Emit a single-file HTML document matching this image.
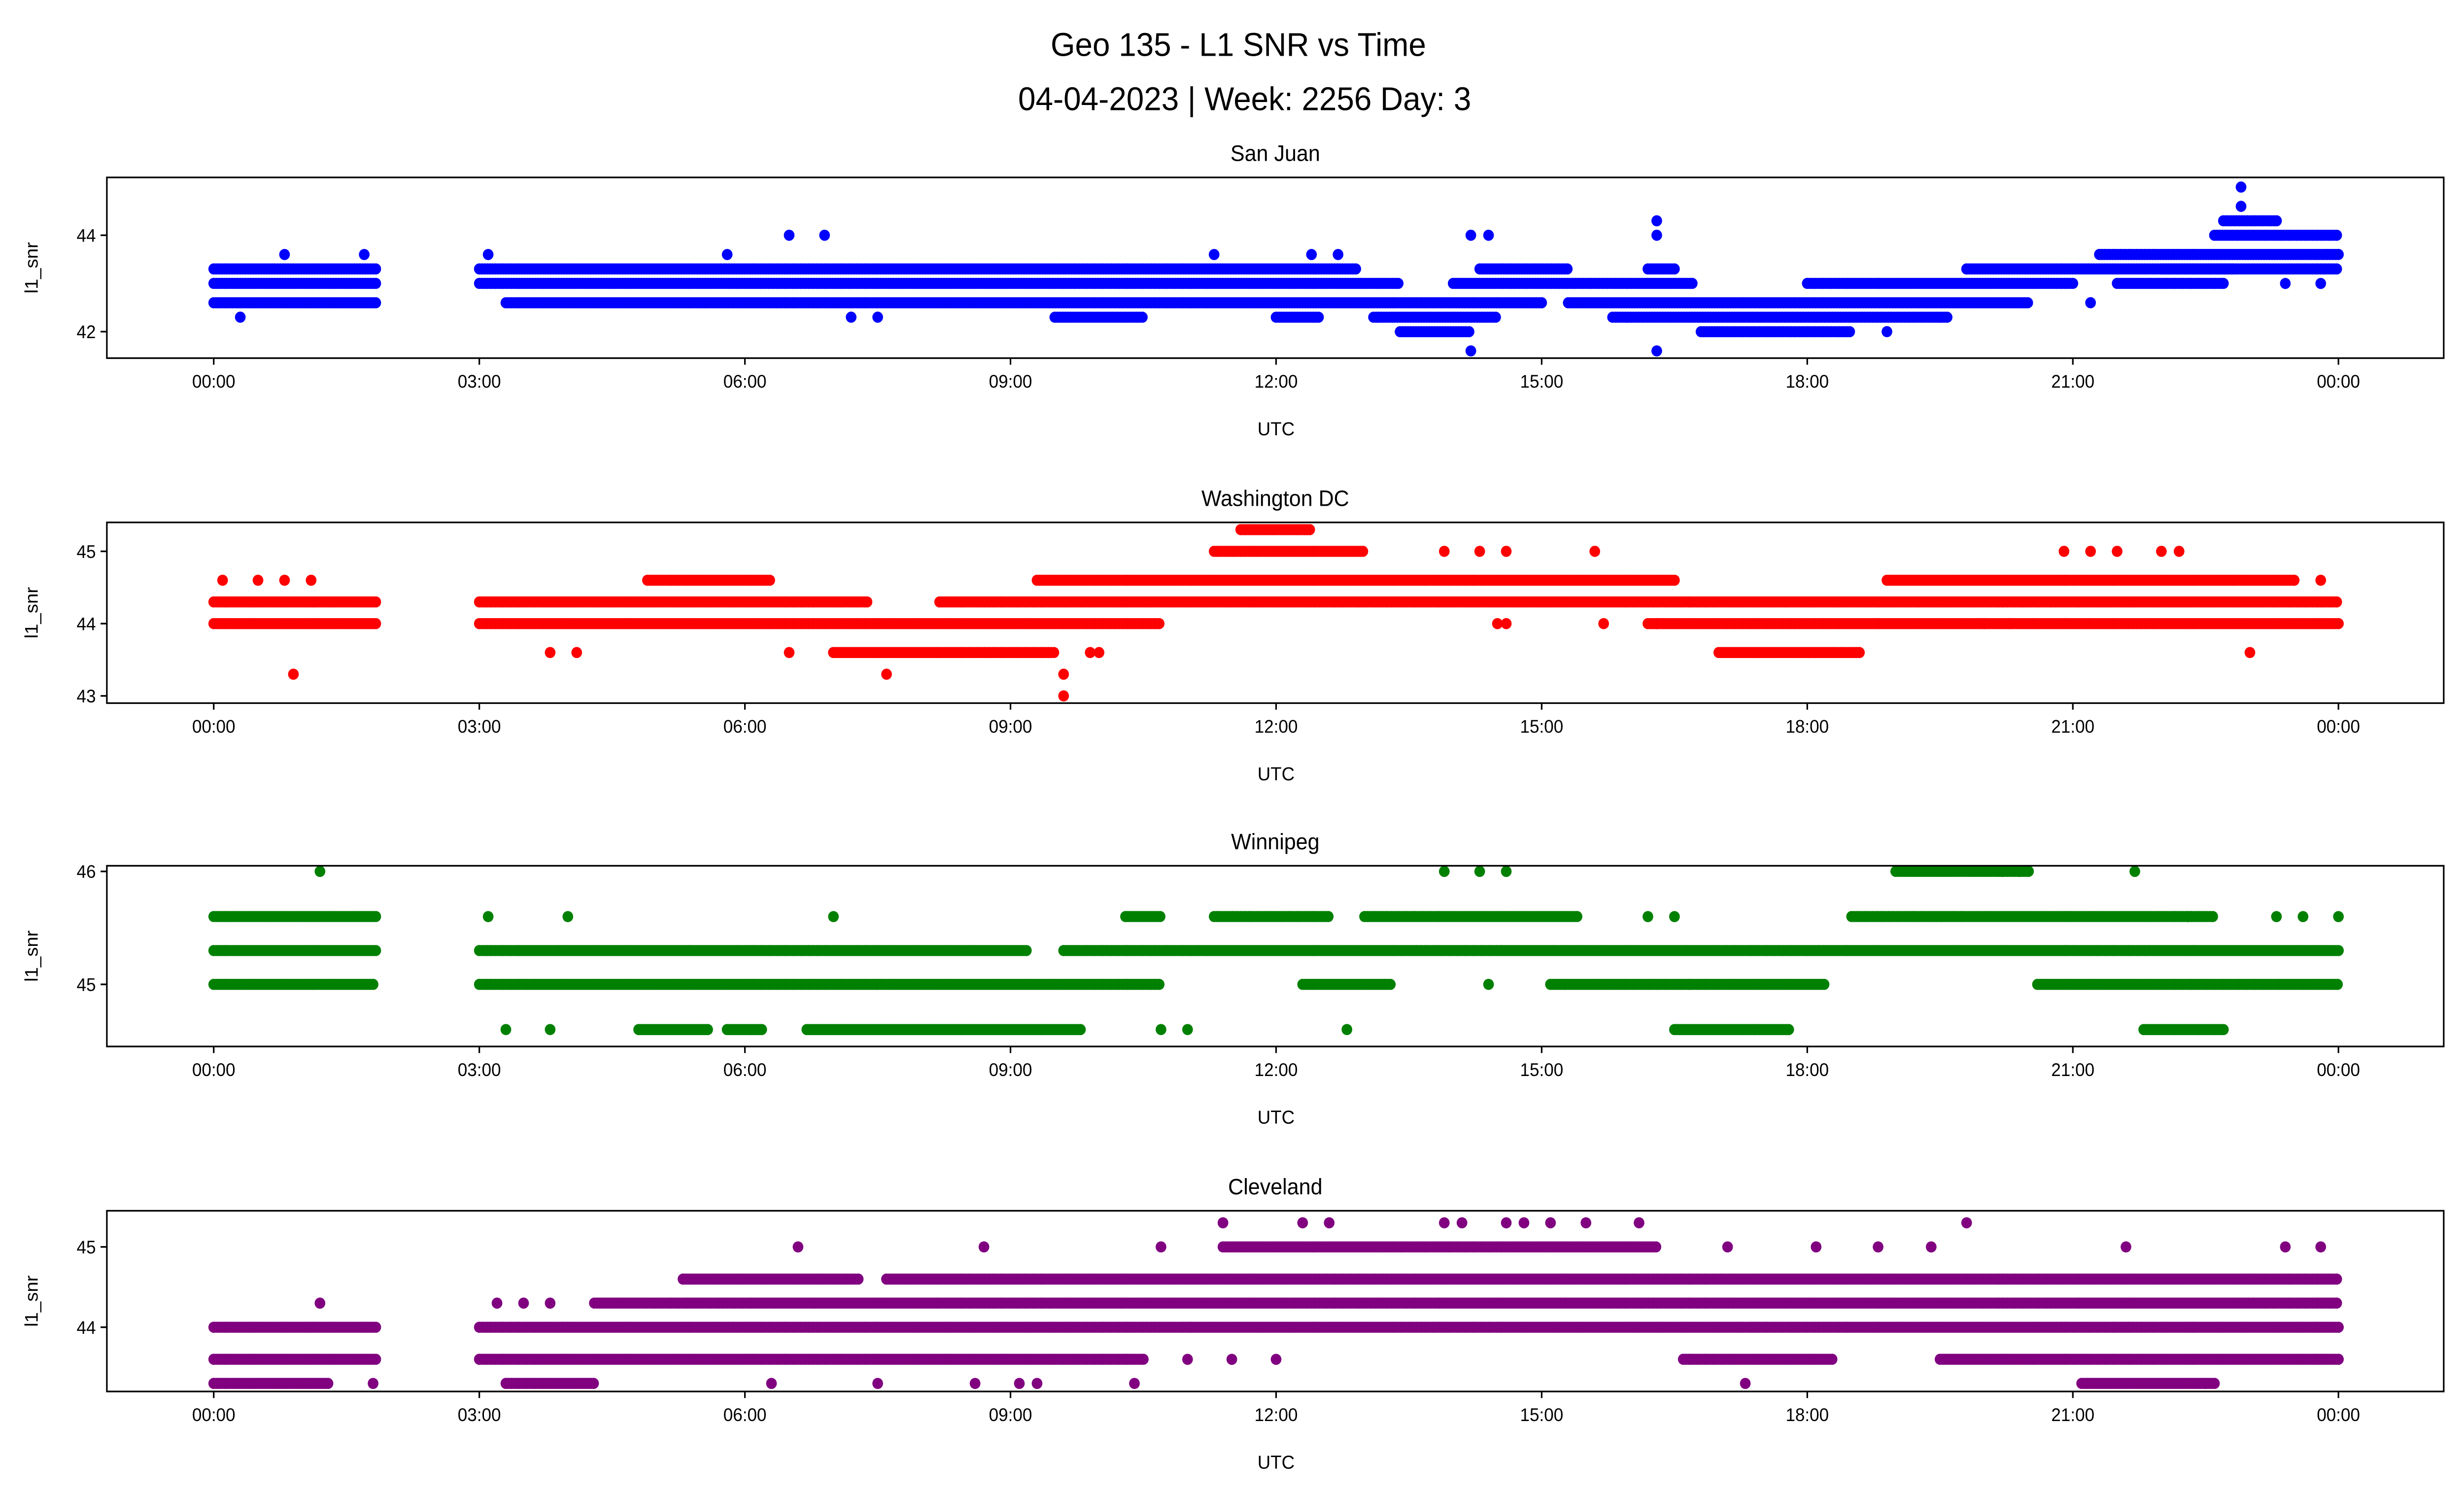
<!DOCTYPE html>
<html><head><meta charset="utf-8"><style>
html,body{margin:0;padding:0;background:#fff;}
svg{display:block;font-family:"Liberation Sans","DejaVu Sans",sans-serif;}
</style></head><body>
<svg xmlns="http://www.w3.org/2000/svg" width="5226" height="3033">
<rect width="5226" height="3033" fill="#fff"/>
<g id="fig" transform="scale(3.18898,3.33291)">
<text x="788" y="34" font-size="20" text-anchor="middle">Geo 135 - L1 SNR vs Time</text>
<text x="792" y="67" font-size="20" text-anchor="middle">04-04-2023 | Week: 2256 Day: 3</text>
</g>
</svg>
<script>
// ---- data ----
const panelNames = ["San Juan","Washington DC","Winnipeg","Cleveland"];
const panelColors = ["#0000ff","#ff0000","#008000","#800080"];
const xTickLabels = ["00:00","03:00","06:00","09:00","12:00","15:00","18:00","21:00","00:00"];
const xTickHours = [0,3,6,9,12,15,18,21,24];
const yTicks0 = [42,44];
const yTicks1 = [43,44,45];
const yTicks2 = [45,46];
const yTicks3 = [44,45];
const yRange0 = [41.45,45.2];
const yRange1 = [42.9,45.4];
const yRange2 = [44.45,46.05];
const yRange3 = [43.2,45.45];
// runs: [startHour, endHour, snr]
const runs0 = [[0,1.85,43.3],[0,1.85,43.0],[0,1.85,42.6],[3.0,12.9,43.3],[3.0,13.4,43.0],[3.3,15.0,42.6],[9.5,10.5,42.3],[12.0,12.5,42.3],[13.1,14.5,42.3],[13.4,14.2,42.0],[14.3,15.3,43.3],[14.0,16.7,43.0],[15.3,20.5,42.6],[15.8,19.6,42.3],[16.8,18.5,42.0],[16.2,16.5,43.3],[18.0,21.0,43.0],[19.8,22.8,43.3],[21.3,24,43.6],[22.0,24,43.3],[21.5,22.7,43.0],[22.6,24,44.0],[22.7,23.3,44.3]];
const pts0 = [[0.8,43.6],[1.7,43.6],[3.1,43.6],[6.5,44],[6.9,44],[0.3,42.3],[22.9,45],[22.9,44.6],[14.2,41.6],[16.3,41.6],[16.3,44.3],[12.7,43.6],[12.4,43.6],[7.2,42.3],[7.5,42.3],[18.9,42.0],[19.8,43.3],[21.2,42.6],[23.4,43.0],[23.8,43.0],[14.2,44],[14.4,44],[16.3,44],[11.3,43.6],[5.8,43.6]];
const runs1 = [[0,1.85,44.3],[0,1.85,44.0],[3,7.4,44.3],[3,10.7,44.0],[7.0,9.5,43.6],[4.9,6.3,44.6],[8.2,24,44.3],[9.3,16.5,44.6],[11.3,13.0,45.0],[11.6,12.4,45.3],[16.2,24,44.0],[18.9,23.5,44.6],[17.0,18.6,43.6]];
const pts1 = [[0.1,44.6],[0.5,44.6],[0.8,44.6],[1.1,44.6],[0.9,43.3],[3.8,43.6],[4.1,43.6],[6.5,43.6],[7.6,43.3],[9.6,43.3],[9.6,43.0],[14.5,44],[14.6,44],[15.6,45],[14.6,45],[13.9,45],[14.3,45],[15.7,44],[16.3,44],[20.0,44],[20.3,44],[20.9,45],[21.2,45],[21.5,45],[22.0,45],[22.2,45],[23.0,43.6],[23.5,44.6],[23.8,44.6],[22.8,44.6],[9.9,43.6],[10.0,43.6]];
const runs2 = [[0,1.85,45.6],[0,1.85,45.3],[0,1.8,45.0],[3,9.2,45.3],[3,10.7,45.0],[9.6,24,45.3],[11.3,12.6,45.6],[13.0,15.4,45.6],[12.3,13.3,45.0],[15.1,18.2,45.0],[18.5,22.6,45.6],[20.6,24,45.0],[19.0,20.5,46],[4.8,5.6,44.6],[5.8,6.2,44.6],[6.7,9.8,44.6],[16.5,17.8,44.6],[21.8,22.7,44.6],[10.3,10.7,45.6]];
const pts2 = [[1.2,46],[3.1,45.6],[4.0,45.6],[7.0,45.6],[13.9,46],[14.3,46],[14.6,46],[21.7,46],[16.2,45.6],[16.5,45.6],[23.3,45.6],[22.3,45.6],[3.3,44.6],[3.8,44.6],[12.8,44.6],[14.4,45],[10.7,44.6],[11.0,44.6],[23.6,45.6],[24,45.6],[20.2,46],[20.4,46]];
const runs3 = [[0,1.85,44.0],[0,1.85,43.6],[0,1.3,43.3],[3,24,44.0],[3,10.5,43.6],[4.3,24,44.3],[5.3,7.3,44.6],[7.6,24,44.6],[11.4,16.3,45.0],[16.6,18.3,43.6],[19.5,24,43.6],[3.3,4.3,43.3],[21.1,22.6,43.3]];
const pts3 = [[1.2,44.3],[3.2,44.3],[3.5,44.3],[3.8,44.3],[6.6,45],[8.7,45],[10.7,45],[11.4,45.3],[12.3,45.3],[12.6,45.3],[13.9,45.3],[14.1,45.3],[14.6,45.3],[14.8,45.3],[15.1,45.3],[15.5,45.3],[16.1,45.3],[19.8,45.3],[17.1,45],[18.1,45],[21.6,45],[23.4,45],[23.8,45],[1.8,43.3],[7.5,43.3],[8.6,43.3],[9.1,43.3],[9.3,43.3],[10.4,43.3],[6.3,43.3],[17.3,43.3],[22.5,43.3],[18.8,45],[19.4,45],[11.0,43.6],[11.5,43.6],[12.0,43.6]];

const allRuns=[runs0,runs1,runs2,runs3], allPts=[pts0,pts1,pts2,pts3];
const allTicks=[yTicks0,yTicks1,yTicks2,yTicks3], allRanges=[yRange0,yRange1,yRange2,yRange3];
const NS="http://www.w3.org/2000/svg";
const svg=document.getElementById('fig');
const AXL=68, AXR=1555, AXH=110, tops=[108,318,527,737];
function xScale(h){return 136+h*(1488-136)/24;}
function mk(tag,attrs,parent){const e=document.createElementNS(NS,tag);for(const k in attrs)e.setAttribute(k,attrs[k]);(parent||svg).appendChild(e);return e;}
for(let p=0;p<4;p++){
  const top=tops[p], bot=top+AXH, r=allRanges[p];
  const yScale=v=>bot-(v-r[0])/(r[1]-r[0])*AXH;
  const g=mk('g',{});
  
  
  const t=mk('text',{x:(AXL+AXR)/2,y:top-10,'font-size':13.5,'text-anchor':'middle'},g);t.textContent=panelNames[p];
  
  
  const dots=mk('g',{fill:panelColors[p]},g);
  
  
  allRuns[p].forEach(([s,e,v])=>{for(let h=s;h<=e+1e-9;h+=0.03){mk('circle',{cx:xScale(h).toFixed(1),cy:yScale(v).toFixed(1),r:3.4},dots);}});
  allPts[p].forEach(([h,v])=>{const c=mk('circle',{cx:xScale(h),cy:yScale(v),r:3.4},dots);
    
    });
  const fr=mk('rect',{x:AXL,y:top,width:AXR-AXL,height:AXH,fill:'none',stroke:'#000','stroke-width':1},g);
  
  
  xTickHours.forEach((h,i)=>{const x=xScale(h);mk('line',{x1:x,x2:x,y1:bot,y2:bot+4,stroke:'#000'},g);
    const tl=mk('text',{x:x,y:bot+18,'font-size':11,'text-anchor':'middle'},g);tl.textContent=xTickLabels[i];
    
    });
  allTicks[p].forEach(v=>{const y=yScale(v);mk('line',{x1:AXL-4,x2:AXL,y1:y,y2:y,stroke:'#000'},g);
    const tl=mk('text',{x:AXL-7,y:y+4,'font-size':11,'text-anchor':'end'},g);tl.textContent=v;
    
    });
  const xl=mk('text',{x:812,y:bot+47,'font-size':11.5,'text-anchor':'middle'},g);xl.textContent='UTC';
  
  
  const yl=mk('text',{x:0,y:0,'font-size':11.5,'text-anchor':'middle',transform:`translate(24,${top+AXH/2}) rotate(-90)`},g);yl.textContent='l1_snr';
  
  
}
</script>
</body></html>
